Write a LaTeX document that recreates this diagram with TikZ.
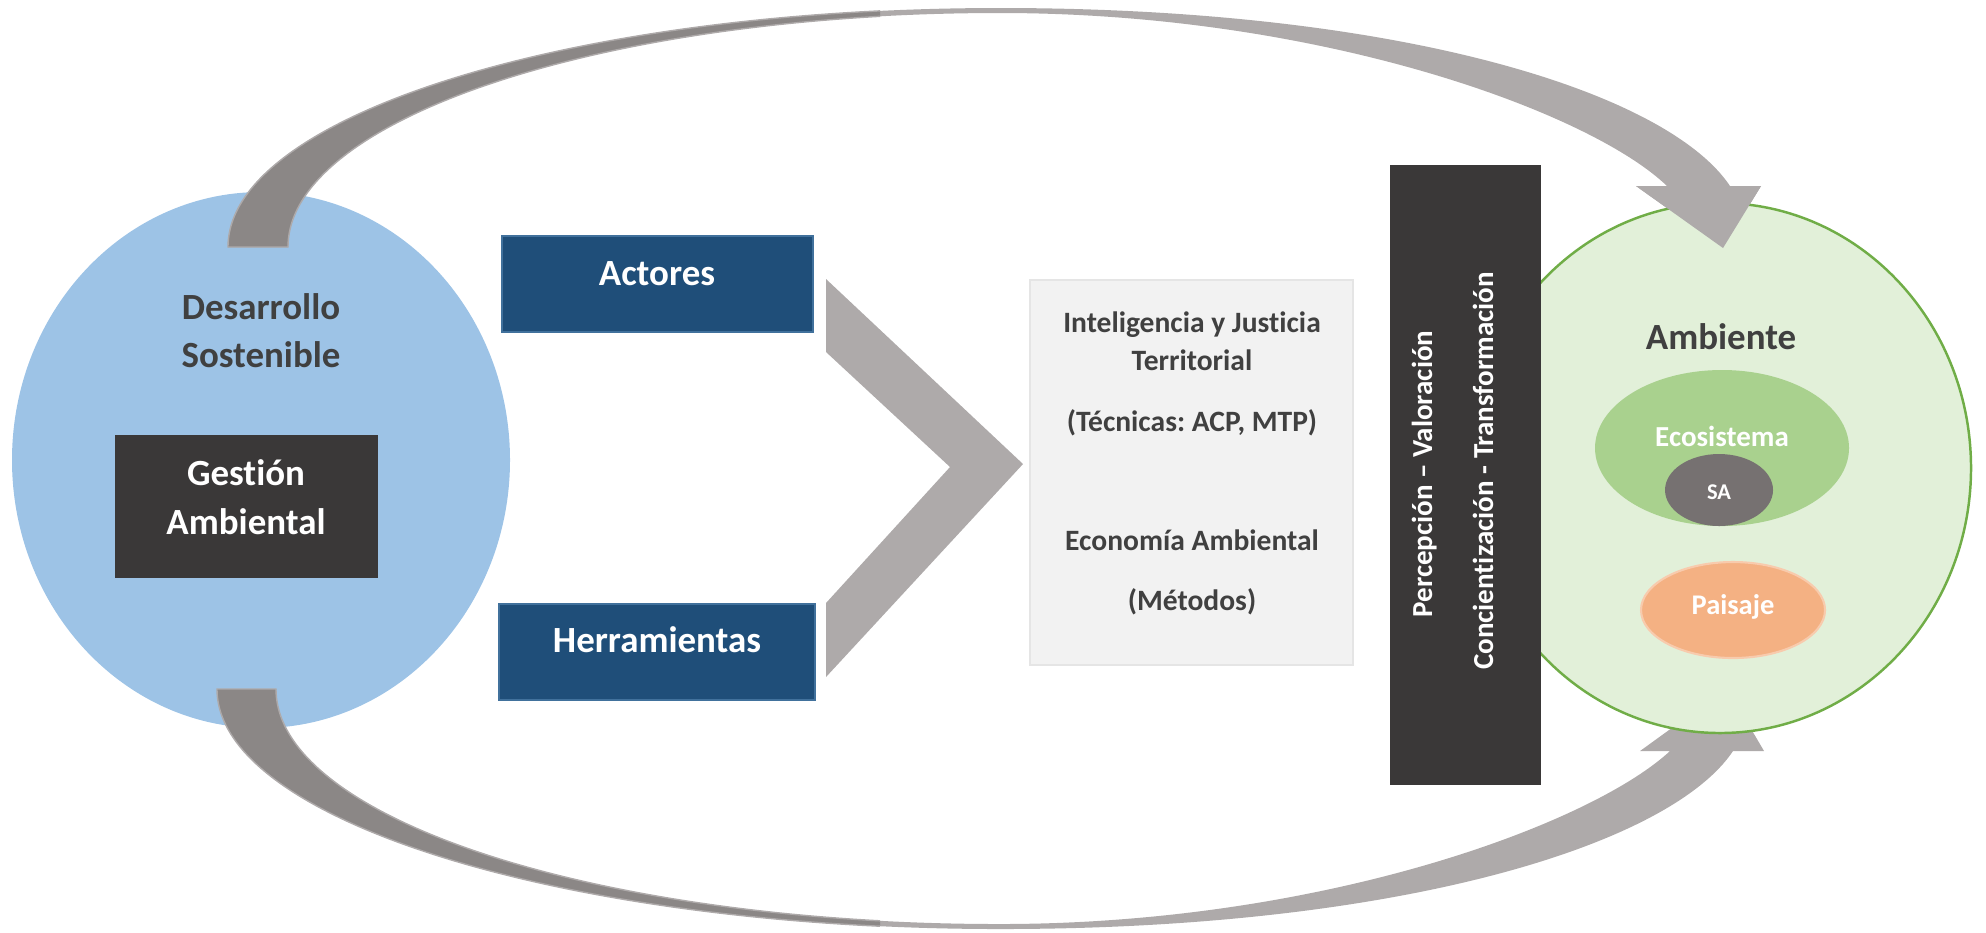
\documentclass[tikz,border=0pt]{standalone}
\usepackage{fontspec}
\setmainfont{Carlito}[Ligatures=NoCommon]
\usepackage{xcolor}
\usepackage{tikz}
\frenchspacing
\definecolor{azul}{HTML}{9DC3E6}
\definecolor{marino}{HTML}{1F4E79}
\definecolor{borde}{HTML}{41719C}
\definecolor{oscuro}{HTML}{3A3838}
\definecolor{grisclaro}{HTML}{AEAAAA}
\definecolor{grisosc}{HTML}{8B8786}
\definecolor{grisfondo}{HTML}{F2F2F2}
\definecolor{gristxt}{HTML}{404040}
\definecolor{verdefondo}{HTML}{E2F0D9}
\definecolor{verdeborde}{HTML}{70AD47}
\definecolor{verdeeco}{HTML}{A9D18E}
\definecolor{grissa}{HTML}{767171}
\definecolor{naranja}{HTML}{F4B183}
\definecolor{naranjaborde}{HTML}{F8CBAD}
\tikzstyle{tit}= [font=\bfseries\fontsize{10.5}{12}\selectfont, anchor=base, inner sep=0pt]
\tikzstyle{txt}= [font=\bfseries\fontsize{8.4}{10}\selectfont, anchor=base, inner sep=0pt, text=gristxt]
\tikzstyle{vert}= [font=\bfseries\fontsize{8.25}{10}\selectfont, anchor=base, inner sep=0pt, text=white, rotate=90]

\begin{document}
\begin{tikzpicture}[x=0.01cm, y=-0.01cm]
				\useasboundingbox (0,0) rectangle (1986,932);
				% circulo izquierdo
				\fill[azul] (261,460) ellipse [x radius=249, y radius=268];
				\fill[oscuro] (115,435) rectangle (378,578);
				% flecha superior
				\fill[grisclaro] (228,247) .. controls (228,115) and (574,8) .. (1000,8)
					.. controls (1400,8) and (1667,92) .. (1730,186)
					-- (1761,186) -- (1723,248) -- (1636,186) -- (1667,186)
					.. controls (1590,112) and (1320,13) .. (1000,13)
					.. controls (607,13) and (288,118) .. (288,247) -- cycle;
				\begin{scope}
					\clip (0,0) rectangle (880,932);
					\filldraw[fill=grisosc, draw=grisclaro, line width=0.4pt] (228,247) .. controls (228,115) and (574,8) .. (1000,8)
						-- (1000,13) .. controls (607,13) and (288,118) .. (288,247) -- cycle;
				\end{scope}
				% flecha inferior
				\fill[grisclaro] (217,689) .. controls (217,821) and (568,929) .. (1000,929)
					.. controls (1400,929) and (1670,845) .. (1733,751)
					-- (1764,751) -- (1727,688) -- (1640,751) -- (1670,751)
					.. controls (1590,825) and (1320,924) .. (1000,924)
					.. controls (600,924) and (276,819) .. (276,689) -- cycle;
				\begin{scope}
					\clip (0,0) rectangle (880,932);
					\filldraw[fill=grisosc, draw=grisclaro, line width=0.4pt] (217,689) .. controls (217,821) and (568,929) .. (1000,929)
						-- (1000,924) .. controls (600,924) and (276,819) .. (276,689) -- cycle;
				\end{scope}
				% cajas
				\filldraw[fill=marino, draw=borde, line width=0.4pt] (502,236) rectangle (813,332);
				\filldraw[fill=marino, draw=borde, line width=0.4pt] (499,604) rectangle (815,700);
				\fill[grisclaro] (826,279) -- (1023,464) -- (826,677) -- (826,603) -- (950,467) -- (826,352) -- cycle;
				\filldraw[fill=grisfondo, draw=black!10, line width=0.4pt] (1030,280) rectangle (1353,665);
				% circulo derecho
				\filldraw[fill=verdefondo, draw=verdeborde, line width=0.7pt] (1720,468) ellipse [x radius=251, y radius=265];
				\fill[grisclaro] (1730,186) -- (1761,186) -- (1723,248) -- (1636,186) -- (1667,186) -- cycle;
				\fill[oscuro] (1390,165) rectangle (1541,785);
				\fill[verdeeco] (1722,448) ellipse [x radius=127, y radius=78];
				\fill[grissa] (1719,490) ellipse [x radius=54, y radius=36];
				\filldraw[fill=naranja, draw=naranjaborde, line width=0.6pt] (1733,610) ellipse [x radius=92, y radius=48];
				% textos
				\node[tit, text=gristxt] (ds1) at (261,319) {Desarrollo};
				\node[tit, text=gristxt] (ds2) at (261,367) {Sostenible};
				\node[tit, text=white] (ga1) at (246,485) {Gestión};
				\node[tit, text=white] (ga2) at (246,534) {Ambiental};
				\node[tit, text=white] (act) at (657,285) {Actores};
				\node[tit, text=white] (her) at (657,652) {Herramientas};
				\node[txt] (ij1) at (1192,332) {Inteligencia y Justicia};
				\node[txt] (ij2) at (1192,370) {Territorial};
				\node[txt] (tec) at (1192,431) {(Técnicas: ACP, MTP)};
				\node[txt] (eco) at (1192,550) {Economía Ambiental};
				\node[txt] (met) at (1192,610) {(Métodos)};
				\node[vert] (pv) at (1432,474) {Percepción – Valoración};
				\node[vert] (ct) at (1493,471) {Concientización - Transformación};
				\node[tit, text=gristxt] (amb) at (1721,349) {Ambiente};
				\node[txt, text=white, font=\bfseries\fontsize{8.25}{10}\selectfont] (ecs) at (1722,446) {Ecosistema};
				\node[txt, text=white, font=\bfseries\fontsize{6.4}{8}\selectfont] (sa) at (1719,499) {SA};
				\node[txt, text=white, font=\bfseries\fontsize{8.1}{10}\selectfont] (pai) at (1733,614) {Paisaje};
			\end{tikzpicture}
\end{document}
